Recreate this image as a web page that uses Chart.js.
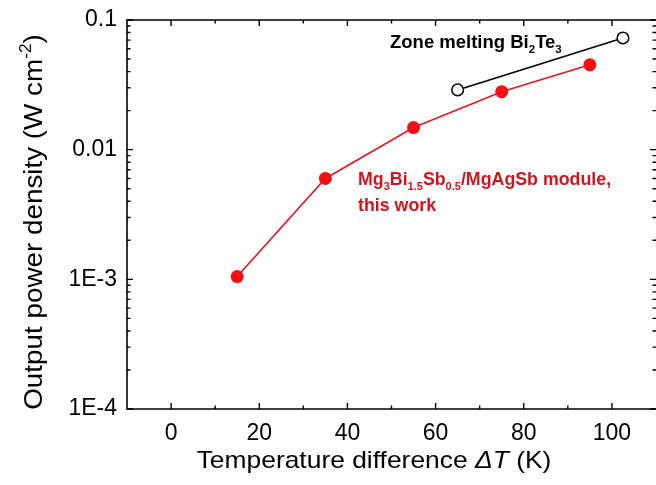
<!DOCTYPE html>
<html><head><meta charset="utf-8">
<script src="https://cdn.jsdelivr.net/npm/chart.js@4.4.0/dist/chart.umd.min.js"></script>
<style>html,body{margin:0;padding:0;background:#fff}#wrap{width:656px;height:485px;position:relative}</style>
</head><body><div id="wrap"><canvas id="c" width="656" height="485"></canvas></div>
<script>
// Data
const moduleDT = [15, 35, 55, 75, 95];
const modulePower = [0.00105, 0.0060, 0.0148, 0.0280, 0.0451];
const bi2te3DT = [65, 102.5];
const bi2te3Power = [0.0289, 0.0727];
const yTickValues = [0.0001, 0.001, 0.01, 0.1];
const yTickLabels = ['1E-4', '1E-3', '0.01', '0.1'];
const xTickValues = [0, 20, 40, 60, 80, 100];

const FONT = 'Arial, "Liberation Sans", sans-serif';

function drawRich(ctx, parts, x, y, size, color, weight) {
  let cx = x;
  for (const [t, m] of parts) {
    let fs = size, dy = 0, style = '';
    if (m === 'sub') { fs = size * 0.62; dy = size * 0.28; }
    if (m === 'sup') { fs = size * 0.62; dy = -size * 0.42; }
    if (m === 'i') { style = 'italic '; }
    ctx.font = style + (weight || 'normal') + ' ' + fs + 'px ' + FONT;
    ctx.fillStyle = color;
    ctx.fillText(t, cx, y + dy);
    cx += ctx.measureText(t).width;
  }
  return cx - x;
}
function measureRich(ctx, parts, size, weight) {
  let w = 0;
  for (const [t, m] of parts) {
    let fs = size, style = '';
    if (m === 'sub' || m === 'sup') fs = size * 0.62;
    if (m === 'i') style = 'italic ';
    ctx.font = style + (weight || 'normal') + ' ' + fs + 'px ' + FONT;
    w += ctx.measureText(t).width;
  }
  return w;
}

const decor = {
  id: 'decor',
  afterDraw(chart) {
    const ctx = chart.ctx;
    const a = chart.chartArea;
    const xs = chart.scales.x, ys = chart.scales.y;
    ctx.save();
    ctx.strokeStyle = '#000';
    ctx.lineWidth = 1.6;
    ctx.beginPath();
    ctx.moveTo(a.right, a.top); ctx.lineTo(a.left, a.top);
    ctx.lineTo(a.left, a.bottom); ctx.lineTo(a.right, a.bottom);
    ctx.stroke();
    ctx.lineWidth = 1.4;
    for (let v = -10; v <= 110; v += 10) {
      const px = xs.getPixelForValue(v);
      if (px < a.left + 1 || px > a.right - 1) continue;
      const len = (v % 20 === 0) ? 6 : 3.5;
      ctx.beginPath();
      ctx.moveTo(px, a.bottom); ctx.lineTo(px, a.bottom - len);
      ctx.moveTo(px, a.top); ctx.lineTo(px, a.top + len);
      ctx.stroke();
    }
    const rx = Math.min(a.right, 657);
    for (let e = -4; e <= -1; e++) {
      for (let m = 1; m <= 9; m++) {
        const v = m * Math.pow(10, e);
        if (v > 0.1 + 1e-12) continue;
        const py = ys.getPixelForValue(v);
        const len = (m === 1) ? 6 : 3.5;
        ctx.beginPath();
        ctx.moveTo(a.left, py); ctx.lineTo(a.left + len, py);
        ctx.moveTo(rx, py); ctx.lineTo(rx - len, py);
        ctx.stroke();
      }
    }
    // y title
    ctx.save();
    ctx.translate(42, 222);
    ctx.rotate(-Math.PI / 2);
    ctx.scale(1.07, 1);
    const yParts = [['Output power density (W cm', 'n'], ['-2', 'sup'], [')', 'n']];
    const yw = measureRich(ctx, yParts, 26);
    ctx.textBaseline = 'alphabetic';
    drawRich(ctx, yParts, -yw / 2, 0, 26, '#000');
    ctx.restore();
    // x title
    ctx.save();
    ctx.translate(374, 468);
    ctx.scale(1.1, 1);
    const xParts = [['Temperature difference ', 'n'], ['\u0394T', 'i'], [' (K)', 'n']];
    const xw = measureRich(ctx, xParts, 24);
    ctx.textBaseline = 'alphabetic';
    drawRich(ctx, xParts, -xw / 2, 0, 24, '#000');
    ctx.restore();
    // annotations
    ctx.textBaseline = 'alphabetic';
    drawRich(ctx, [['Zone melting Bi', 'n'], ['2', 'sub'], ['Te', 'n'], ['3', 'sub']], 390, 48, 18.5, '#000', 'bold');
    drawRich(ctx, [['Mg', 'n'], ['3', 'sub'], ['Bi', 'n'], ['1.5', 'sub'], ['Sb', 'n'], ['0.5', 'sub'], ['/MgAgSb module,', 'n']], 358, 185, 17.8, '#d3141b', 'bold');
    drawRich(ctx, [['this work', 'n']], 358, 211, 17.8, '#d3141b', 'bold');
    ctx.restore();
  }
};

new Chart(document.getElementById('c'), {
  type: 'scatter',
  data: {
    datasets: [
      {
        label: 'Mg3Bi1.5Sb0.5/MgAgSb module, this work',
        data: moduleDT.map((x, i) => ({ x, y: modulePower[i] })),
        showLine: true,
        borderColor: '#e3171e',
        borderWidth: 1.6,
        backgroundColor: '#f50f14',
        pointBackgroundColor: '#f50f14',
        pointBorderColor: '#f50f14',
        pointRadius: 6.5,
        pointBorderWidth: 0,
        clip: false
      },
      {
        label: 'Zone melting Bi2Te3',
        data: bi2te3DT.map((x, i) => ({ x, y: bi2te3Power[i] })),
        showLine: true,
        borderColor: '#000',
        borderWidth: 1.6,
        pointBackgroundColor: '#fff',
        pointBorderColor: '#000',
        pointRadius: 5.8,
        pointBorderWidth: 1.5,
        clip: false
      }
    ]
  },
  options: {
    responsive: false,
    animation: false,
    layout: { autoPadding: false, padding: { top: 20, right: -1, left: 0, bottom: 0 } },
    plugins: { legend: { display: false }, tooltip: { enabled: false } },
    scales: {
      x: {
        type: 'linear',
        min: -10, max: 110,
        grid: { display: false, drawTicks: false },
        border: { display: false },
        afterBuildTicks(s) { s.ticks = xTickValues.map(v => ({ value: v })); },
        afterFit(s) { s.height = 76; s.paddingRight = 0; s.paddingLeft = 0; },
        ticks: {
          color: '#000',
          font: { family: FONT, size: 23 },
          padding: 11,
          maxRotation: 0,
          callback: v => String(v)
        }
      },
      y: {
        type: 'logarithmic',
        min: 0.0001, max: 0.1,
        grid: { display: false, drawTicks: false },
        border: { display: false },
        afterBuildTicks(s) { s.ticks = yTickValues.map(v => ({ value: v })); },
        afterFit(s) { s.width = 127; s.paddingTop = 0; s.paddingBottom = 0; },
        ticks: {
          color: '#000',
          font: { family: FONT, size: 23 },
          padding: 10,
          callback: (v) => { const i = yTickValues.findIndex(t => Math.abs(t - v) / t < 1e-6); return i >= 0 ? yTickLabels[i] : ''; }
        }
      }
    }
  },
  plugins: [decor]
});
</script>
</body></html>
